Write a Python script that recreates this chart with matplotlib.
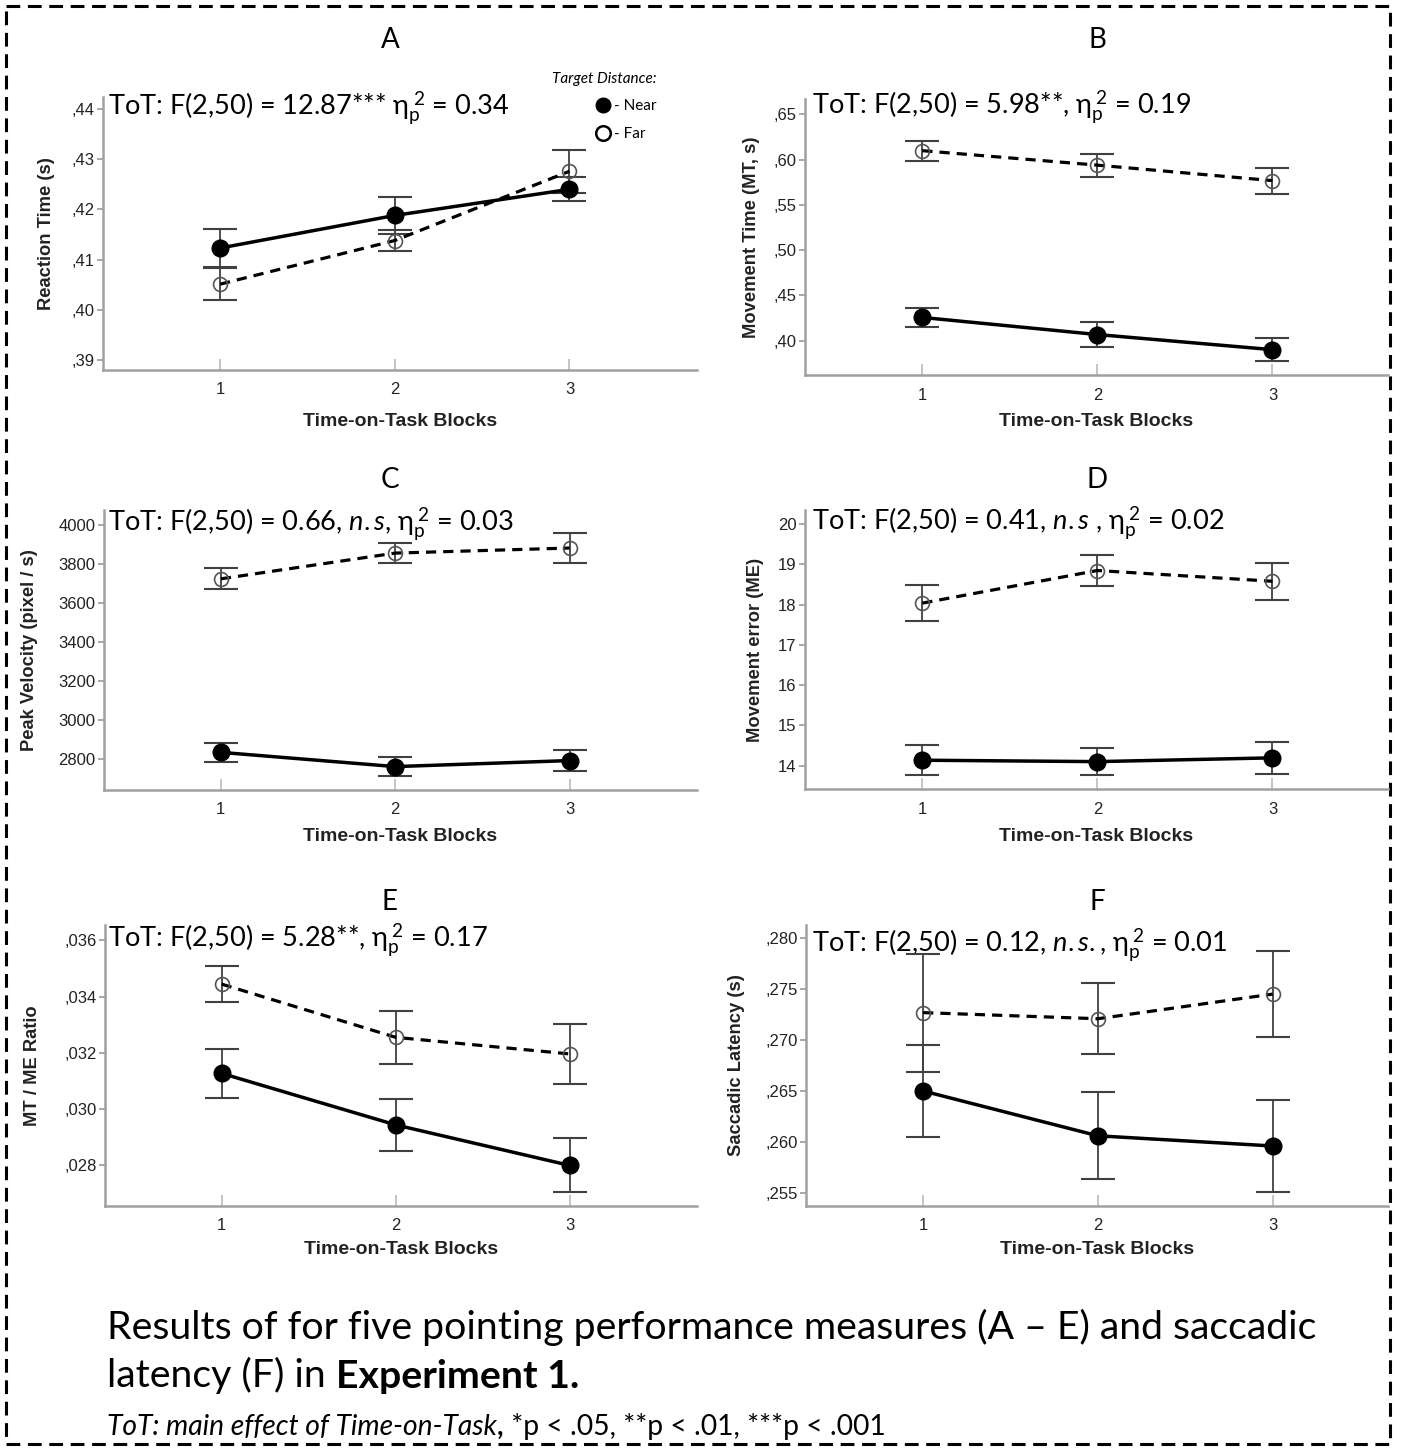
import numpy as np
import matplotlib.pyplot as plt
import matplotlib.transforms as mtransforms
from matplotlib.lines import Line2D
from matplotlib.patches import Rectangle
from matplotlib.ticker import MultipleLocator, FuncFormatter

W, H = 1408, 1452

plt.rcParams['mathtext.fontset'] = 'custom'
plt.rcParams['mathtext.rm'] = 'Lato'
plt.rcParams['mathtext.it'] = 'Lato:italic'
plt.rcParams['mathtext.bf'] = 'Lato:bold'

# data: means and error bar half-widths per block
blocks = [1, 2, 3]

rt_near = [0.4123, 0.4188, 0.4240]
rt_near_err = [0.0037, 0.0036, 0.0024]
rt_far = [0.4051, 0.4138, 0.4276]
rt_far_err = [0.0032, 0.0021, 0.0043]

mt_near = [0.4256, 0.4067, 0.3900]
mt_near_err = [0.0106, 0.0135, 0.0125]
mt_far = [0.6099, 0.5939, 0.5768]
mt_far_err = [0.0111, 0.0128, 0.0143]

pv_near = [2833, 2760, 2791]
pv_near_err = [47, 50, 54]
pv_far = [3723, 3855, 3881]
pv_far_err = [54, 52, 75]

me_near = [14.135, 14.10, 14.194]
me_near_err = [0.37, 0.33, 0.39]
me_far = [18.037, 18.847, 18.58]
me_far_err = [0.44, 0.375, 0.46]

ratio_near = [0.03127, 0.02944, 0.02800]
ratio_near_err = [0.00086, 0.00092, 0.00096]
ratio_far = [0.03444, 0.03255, 0.03196]
ratio_far_err = [0.00064, 0.00093, 0.00107]

sl_near = [0.26503, 0.26063, 0.25963]
sl_near_err = [0.00455, 0.00425, 0.00455]
sl_far = [0.27272, 0.27212, 0.27454]
sl_far_err = [0.0058, 0.0035, 0.0042]

letters = ["A", "B", "C", "D", "E", "F"]
ylabels = ["Reaction Time (s)", "Movement Time (MT, s)", "Peak Velocity (pixel / s)",
           "Movement error (ME)", "MT / ME Ratio", "Saccadic Latency (s)"]
eta = r"$\mathrm{η}_\mathrm{p}^{\;2}$"
stats = [f"ToT: F(2,50) = 12.87*** {eta} = 0.34",
         f"ToT: F(2,50) = 5.98**, {eta} = 0.19",
         f"ToT: F(2,50) = 0.66, $\\mathit{{n.s}}$, {eta} = 0.03",
         f"ToT: F(2,50) = 0.41, $\\mathit{{n.s}}$ , {eta} = 0.02",
         f"ToT: F(2,50) = 5.28**, {eta} = 0.17",
         f"ToT: F(2,50) = 0.12, $\\mathit{{n.s.}}$, {eta} = 0.01"]
near_means = [rt_near, mt_near, pv_near, me_near, ratio_near, sl_near]
near_errs = [rt_near_err, mt_near_err, pv_near_err, me_near_err, ratio_near_err, sl_near_err]
far_means = [rt_far, mt_far, pv_far, me_far, ratio_far, sl_far]
far_errs = [rt_far_err, mt_far_err, pv_far_err, me_far_err, ratio_far_err, sl_far_err]
ylims = [(0.388, 0.4424), (0.362, 0.667), (2640, 4076), (13.42, 20.35),
         (0.02656, 0.03654), (0.25374, 0.28132)]
ysteps = [0.01, 0.05, 200, 1, 0.002, 0.005]
ydecimals = [2, 2, 0, 0, 3, 3]

# layout in pixels: axes boxes (left, top, right, bottom)
boxes = [(103, 97, 697, 370), (805, 99, 1388, 375),
         (104, 510, 697, 790), (805, 510, 1388, 789),
         (105, 925, 697, 1206), (806, 925, 1388, 1206)]
title_pos = [(390, 40), (1097, 40), (390, 480), (1097, 480), (390, 902), (1097, 902)]
stat_pos = [(108, 108), (812, 107), (108, 524), (812, 523), (108, 940), (812, 945)]
ylabel_x = [55, 760, 38, 764, 41, 745]
xlabel_y = [413, 413, 828, 828, 1241, 1241]

fig = plt.figure(figsize=(W / 100, H / 100), dpi=100)
bg = fig.add_axes([0, 0, 1, 1], zorder=-1)
bg.set_xlim(0, W)
bg.set_ylim(H, 0)
bg.axis("off")

# dashed frame round the whole figure
bg.add_patch(Rectangle((6, 6), 1384, 1438, fill=False, ec="black", lw=2.2,
                       ls=(0, (4.5, 2.5))))


def comma_fmt(decimals):
    def f(v, pos):
        if decimals == 0:
            return f"{v:.0f}"
        return f"{v:.{decimals}f}".replace("0.", ",", 1)
    return FuncFormatter(f)


axes = []
for i in range(6):
    l, t, r, b = boxes[i]
    ax = fig.add_axes([l / W, 1 - b / H, (r - l) / W, (b - t) / H])
    ax.set_facecolor("none")
    axes.append(ax)

    ax.errorbar(blocks, far_means[i], yerr=far_errs[i], fmt="none", ecolor="#404040",
                elinewidth=1.3, capsize=12, capthick=1.5, zorder=2)
    ax.errorbar(blocks, near_means[i], yerr=near_errs[i], fmt="none", ecolor="#404040",
                elinewidth=1.3, capsize=12, capthick=1.5, zorder=2)
    ax.plot(blocks, far_means[i], color="black", lw=2.3, ls=(0, (3.2, 2.2)),
            marker="o", ms=10, mfc="none", mec="#555555", mew=1.2, zorder=3)
    ax.plot(blocks, near_means[i], color="black", lw=2.5, marker="o", ms=12,
            mfc="black", mec="black", zorder=4)

    ax.set_xlim(0.33, 3.73 if i % 2 == 0 else 3.66)
    ax.set_ylim(*ylims[i])
    ax.set_xticks(blocks)
    ax.yaxis.set_major_locator(MultipleLocator(ysteps[i]))
    ax.yaxis.set_major_formatter(comma_fmt(ydecimals[i]))

    for s in ["top", "right"]:
        ax.spines[s].set_visible(False)
    for s in ["left", "bottom"]:
        ax.spines[s].set_color("#a0a0a0")
        ax.spines[s].set_linewidth(1.8)
    ax.tick_params(axis="x", direction="in", length=8, width=1.2, color="#bbbbbb",
                   pad=9, labelsize=12, labelcolor="#222222")
    ax.tick_params(axis="y", direction="out", length=4, width=1.2, color="#999999",
                   pad=2, labelsize=12, labelcolor="#222222")
    for lab in ax.get_xticklabels() + ax.get_yticklabels():
        lab.set_family("Liberation Sans")

    ax.set_xlabel("Time-on-Task Blocks", family="Liberation Sans", weight="bold",
                  fontsize=14, color="#222222")
    ax.xaxis.set_label_coords(0.5, xlabel_y[i],
                              transform=mtransforms.blended_transform_factory(ax.transAxes, bg.transData))
    ax.xaxis.label.set_va("top")
    ax.set_ylabel(ylabels[i], family="Liberation Sans", weight="bold", fontsize=13.2,
                  color="#222222")
    ax.yaxis.set_label_coords(ylabel_x[i], 0.5,
                              transform=mtransforms.blended_transform_factory(bg.transData, ax.transAxes))

    bg.text(title_pos[i][0], title_pos[i][1], letters[i], family="Lato", fontsize=20,
            ha="center", va="center")
    bg.text(stat_pos[i][0], stat_pos[i][1], stats[i], family="Lato", fontsize=19.5,
            ha="left", va="center", zorder=5)

# legend in panel A
handles = [Line2D([], [], ls="none", marker="o", ms=10.5, mfc="black", mec="black"),
           Line2D([], [], ls="none", marker="o", ms=10.5, mfc="white", mec="black", mew=1.8)]
leg = axes[0].legend(handles, ["- Near", "- Far"], title="Target Distance:",
                     loc="upper right", bbox_to_anchor=(664, 64),
                     bbox_transform=bg.transData, frameon=False,
                     handlelength=0.8, handletextpad=0.3, labelspacing=0.9,
                     alignment="right", borderpad=0,
                     prop={"family": "Lato", "size": 11},
                     title_fontproperties={"family": "Lato", "style": "italic", "size": 11})

# caption
cap_size = 28.3
bg.text(107, 1346, "Results of for five pointing performance measures (A \u2013 E) and saccadic",
        family="Lato", fontsize=cap_size, ha="left", va="bottom")
t1 = bg.text(107, 1394, "latency (F) in ", family="Lato", fontsize=cap_size,
             ha="left", va="bottom")
bg.annotate("Experiment 1.", xy=(1, 0), xycoords=t1, family="Lato", fontsize=cap_size,
            weight="bold", ha="left", va="bottom")
foot_size = 20.3
f1 = bg.text(107, 1440, "ToT: main effect of Time-on-Task", family="Lato", fontsize=foot_size,
             style="italic", ha="left", va="bottom")
f2 = bg.annotate(",", xy=(1, 0), xycoords=f1, family="Lato", fontsize=foot_size,
                 weight="bold", ha="left", va="bottom")
bg.annotate(" *p < .05, **p < .01, ***p < .001", xy=(1, 0), xycoords=f2, family="Lato",
            fontsize=foot_size, ha="left", va="bottom")

fig.savefig("out.png", dpi=100)
